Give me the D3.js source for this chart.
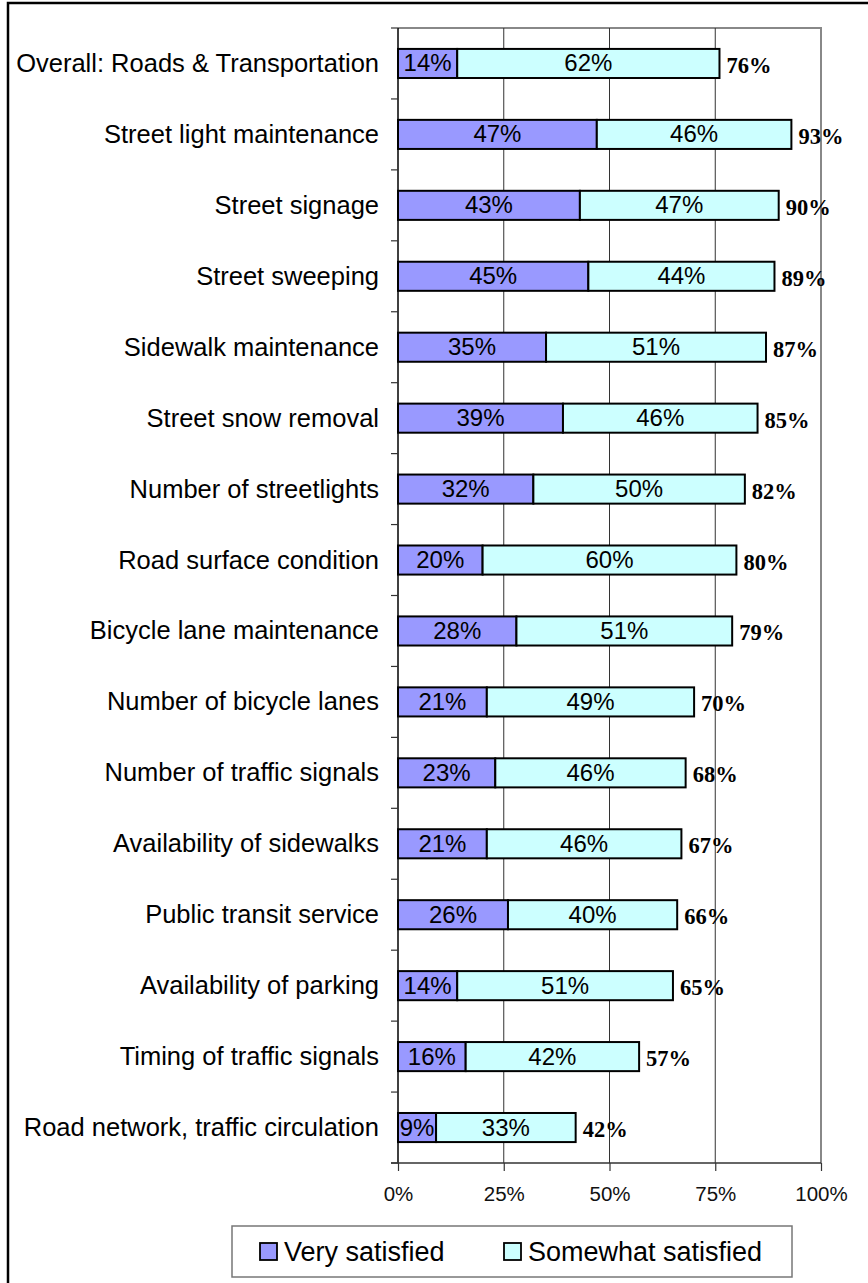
<!DOCTYPE html>
<html lang="en">
<head>
    <meta charset="UTF-8">
    <title>Satisfaction with Roads & Transportation</title>
    <script src="https://d3js.org/d3.v7.min.js"></script>
    <style>
        body {
            margin: 0;
            background: #fff;
            font-family: Arial, "Liberation Sans", sans-serif;
        }
    </style>
</head>
<body>
    <div id="chart"></div>

    <script>
        // Data
        const categories = [
            "Overall: Roads & Transportation",
            "Street light maintenance",
            "Street signage",
            "Street sweeping",
            "Sidewalk maintenance",
            "Street snow removal",
            "Number of streetlights",
            "Road surface condition",
            "Bicycle lane maintenance",
            "Number of bicycle lanes",
            "Number of traffic signals",
            "Availability of sidewalks",
            "Public transit service",
            "Availability of parking",
            "Timing of traffic signals",
            "Road network, traffic circulation"
        ];
        const verySatisfied     = [14, 47, 43, 45, 35, 39, 32, 20, 28, 21, 23, 21, 26, 14, 16, 9];
        const somewhatSatisfied = [62, 46, 47, 44, 51, 46, 50, 60, 51, 49, 46, 46, 40, 51, 42, 33];
        const totalSatisfied    = [76, 93, 90, 89, 87, 85, 82, 80, 79, 70, 68, 67, 66, 65, 57, 42];
        const xTicks = [0, 25, 50, 75, 100];
        const seriesNames = ["Very satisfied", "Somewhat satisfied"];
        const seriesColors = ["#9999ff", "#ccffff"];

        const W = 868, H = 1283;
        const plot = { left: 398, right: 821, top: 28, bottom: 1163 };

        const svg = d3.select("#chart")
            .append("svg")
            .attr("width", W)
            .attr("height", H);

        // outer frame (only top and left show in the picture)
        svg.append("rect")
            .attr("x", 8).attr("y", 3)
            .attr("width", W + 20).attr("height", H + 20)
            .attr("fill", "#fff")
            .attr("stroke", "#000")
            .attr("stroke-width", 2.5);

        const x = d3.scaleLinear().domain([0, 100]).range([plot.left, plot.right]);
        const y = d3.scaleBand()
            .domain(categories)
            .range([plot.top, plot.bottom])
            .paddingInner(0.59)
            .paddingOuter(0.295);

        // plot frame, top and right in grey
        svg.append("path")
            .attr("d", `M${plot.left},${plot.top}H${plot.right}V${plot.bottom}`)
            .attr("fill", "none")
            .attr("stroke", "#888")
            .attr("stroke-width", 2);

        // vertical gridlines
        svg.selectAll(".grid")
            .data(xTicks.filter(d => d > 0 && d < 100))
            .enter()
            .append("line")
            .attr("x1", d => x(d)).attr("x2", d => x(d))
            .attr("y1", plot.top).attr("y2", plot.bottom)
            .attr("stroke", "#333")
            .attr("stroke-width", 1);

        // y axis with ticks on band boundaries
        const step = y.step();
        const yTickPos = d3.range(categories.length + 1).map(i => plot.top + i * step);
        svg.append("line")
            .attr("x1", plot.left).attr("x2", plot.left)
            .attr("y1", plot.top).attr("y2", plot.bottom)
            .attr("stroke", "#000").attr("stroke-width", 1.5);
        svg.selectAll(".ytick")
            .data(yTickPos)
            .enter()
            .append("line")
            .attr("x1", plot.left - 7).attr("x2", plot.left)
            .attr("y1", d => d).attr("y2", d => d)
            .attr("stroke", "#333").attr("stroke-width", 1.2);

        // category labels
        svg.selectAll(".cat")
            .data(categories)
            .enter()
            .append("text")
            .attr("x", 379)
            .attr("y", d => y(d) + y.bandwidth() / 2 + 8.5)
            .attr("text-anchor", "end")
            .attr("font-size", "25.5px")
            .attr("fill", "#000")
            .text(d => d);

        // x axis
        const xAxis = svg.append("g")
            .attr("transform", `translate(0,${plot.bottom})`)
            .call(d3.axisBottom(x).tickValues(xTicks).tickFormat(d => d + "%").tickSize(8).tickSizeOuter(0));
        xAxis.select(".domain")
            .attr("d", `M${plot.left - 7},0H${plot.right}`)
            .attr("stroke", "#333")
            .attr("stroke-width", 1.5);
        xAxis.selectAll(".tick line").attr("stroke", "#333").attr("stroke-width", 1.2);
        xAxis.selectAll(".tick text")
            .attr("y", 0)
            .attr("dy", "38px")
            .attr("font-size", "20.5px")
            .attr("font-family", "Arial, 'Liberation Sans', sans-serif")
            .attr("fill", "#111");

        // bars
        const rows = categories.map((c, i) => ({
            cat: c,
            very: verySatisfied[i],
            some: somewhatSatisfied[i],
            total: totalSatisfied[i]
        }));

        const g = svg.selectAll(".row")
            .data(rows)
            .enter()
            .append("g");

        g.append("rect")
            .attr("x", d => x(0))
            .attr("y", d => y(d.cat))
            .attr("width", d => x(d.very) - x(0))
            .attr("height", y.bandwidth())
            .attr("fill", seriesColors[0])
            .attr("stroke", "#000")
            .attr("stroke-width", 2);

        g.append("rect")
            .attr("x", d => x(d.very))
            .attr("y", d => y(d.cat))
            .attr("width", d => x(d.total) - x(d.very))
            .attr("height", y.bandwidth())
            .attr("fill", seriesColors[1])
            .attr("stroke", "#000")
            .attr("stroke-width", 2);

        g.append("text")
            .attr("x", d => (x(0) + x(d.very)) / 2)
            .attr("y", d => y(d.cat) + y.bandwidth() / 2 + 8)
            .attr("text-anchor", "middle")
            .attr("font-size", "24px")
            .attr("fill", "#000")
            .text(d => d.very + "%");

        g.append("text")
            .attr("x", d => (x(d.very) + x(d.total)) / 2)
            .attr("y", d => y(d.cat) + y.bandwidth() / 2 + 8)
            .attr("text-anchor", "middle")
            .attr("font-size", "24px")
            .attr("fill", "#000")
            .text(d => d.some + "%");

        g.append("text")
            .attr("x", d => x(d.total) + 7)
            .attr("y", d => y(d.cat) + y.bandwidth() / 2 + 9.5)
            .attr("font-family", "'Times New Roman', 'Liberation Serif', serif")
            .attr("font-weight", "bold")
            .attr("font-size", "22.5px")
            .attr("fill", "#000")
            .text(d => d.total + "%");

        // legend
        const legend = svg.append("g");
        legend.append("rect")
            .attr("x", 232).attr("y", 1226)
            .attr("width", 560).attr("height", 51)
            .attr("fill", "#fff")
            .attr("stroke", "#777")
            .attr("stroke-width", 1.5);

        const legendX = [260, 504];
        seriesNames.forEach((name, i) => {
            legend.append("rect")
                .attr("x", legendX[i]).attr("y", 1243)
                .attr("width", 17).attr("height", 17)
                .attr("fill", seriesColors[i])
                .attr("stroke", "#000")
                .attr("stroke-width", 1.8);
            legend.append("text")
                .attr("x", legendX[i] + 24).attr("y", 1261)
                .attr("font-size", "27px")
                .attr("fill", "#000")
                .text(name);
        });
    </script>
</body>
</html>
